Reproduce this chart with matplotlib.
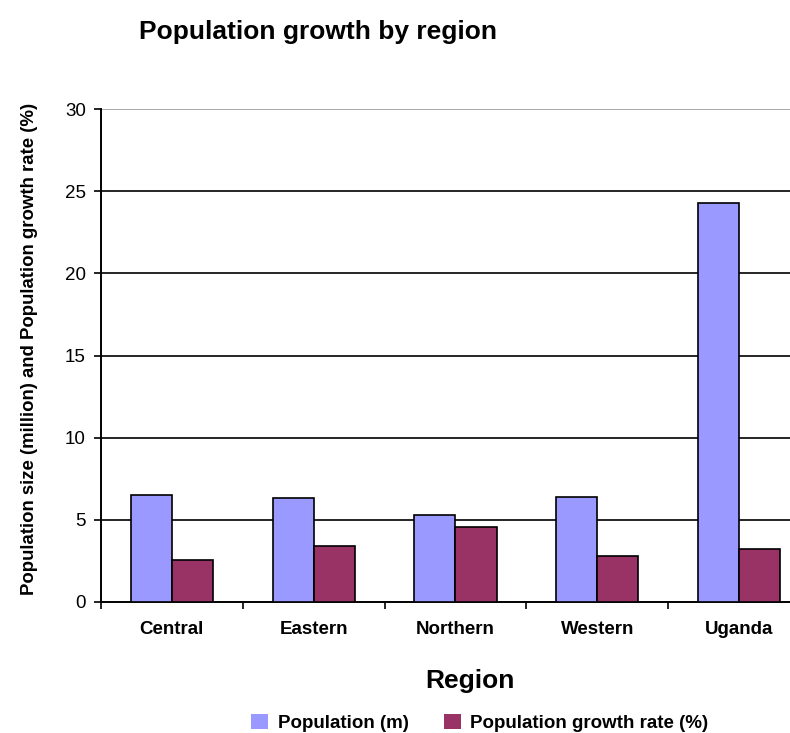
import matplotlib
matplotlib.use("Agg")
import matplotlib.pyplot as plt
import numpy as np
from matplotlib.patches import Patch

plt.rcParams['font.family'] = ['Liberation Sans', 'DejaVu Sans']

regions = ["Central", "Eastern", "Northern", "Western", "Uganda"]
population_m = [6.5, 6.3, 5.3, 6.4, 24.3]
growth_rate = [2.55, 3.4, 4.55, 2.8, 3.2]
y_ticks = [0, 5, 10, 15, 20, 25, 30]

pop_color = "#9999FF"
rate_color = "#993366"

fig = plt.figure(figsize=(7.9, 7.33), dpi=100)
ax = fig.add_axes([101 / 790, 131 / 733, 709 / 790, 493 / 733])

x = np.arange(len(regions))
w = 0.29
ax.bar(x - w / 2, population_m, width=w, color=pop_color, edgecolor="black",
       linewidth=1.2, zorder=3)
ax.bar(x + w / 2, growth_rate, width=w, color=rate_color, edgecolor="black",
       linewidth=1.2, zorder=3)

ax.set_xlim(-0.5, len(regions) - 0.5)
ax.set_ylim(0, 30)
ax.set_yticks(y_ticks)
ax.set_yticklabels([str(t) for t in y_ticks], fontsize=13.5)

# category labels centred, tick marks at category boundaries
ax.set_xticks(x)
ax.set_xticklabels(regions, fontsize=13.5, fontweight="bold")
ax.tick_params(axis="x", length=0, pad=14)
ax.set_xticks(np.arange(len(regions) + 1) - 0.5, minor=True)
ax.tick_params(axis="x", which="minor", length=5, width=1.2, direction="out")
ax.tick_params(axis="y", length=5, width=1.2, direction="out", pad=6)

for yv in y_ticks[1:]:
    ax.axhline(yv, color="#999999" if yv == 30 else "black", linewidth=1.2, zorder=1)

for side in ("top", "right"):
    ax.spines[side].set_visible(False)
for side in ("left", "bottom"):
    ax.spines[side].set_linewidth(1.4)

ax.set_ylabel("Population size (million) and Population growth rate (%)",
              fontsize=13.4, fontweight="bold")
ax.yaxis.set_label_coords(-(101 - 38) / 709, (602 - 349) / 493)
ax.set_xlabel("Region", fontsize=19, fontweight="bold")
ax.xaxis.set_label_coords((470 - 101) / 709, -(669 - 602) / 493)

fig.text(318 / 790, 1 - 32 / 733, "Population growth by region", fontsize=19,
         fontweight="bold", ha="center", va="center")

handles = [Patch(facecolor=pop_color, edgecolor="none"),
           Patch(facecolor=rate_color, edgecolor="none")]
fig.legend(handles, ["Population (m)", "Population growth rate (%)"],
           loc="center", bbox_to_anchor=(480 / 790, 1 - 723 / 733), ncol=2,
           frameon=False, prop={"size": 13.5, "weight": "bold"},
           handlelength=0.9, handleheight=0.9, handletextpad=0.5,
           columnspacing=1.9, borderpad=0)

fig.savefig("out.png", dpi=100)
